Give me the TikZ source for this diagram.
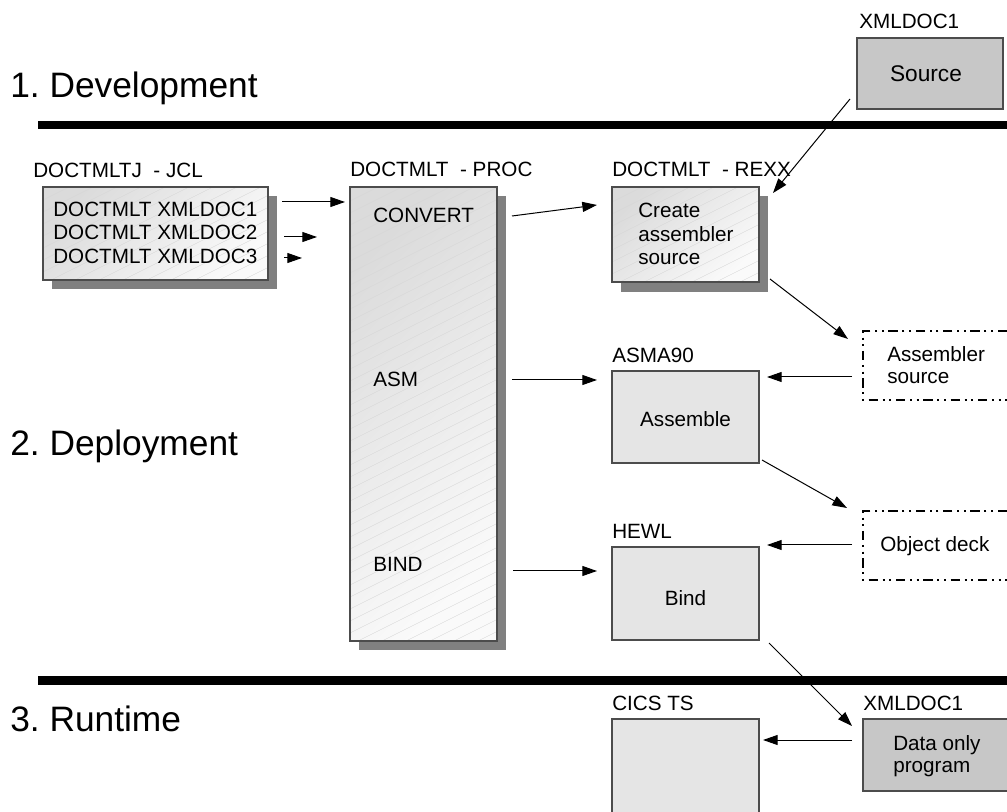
\documentclass[tikz,border=0pt]{standalone}
\usepackage{fontspec}
\setmainfont{Liberation Sans}
\usetikzlibrary{arrows.meta,shadows}
\definecolor{shadowc}{gray}{0.5}
\definecolor{gradA}{gray}{0.86}
\definecolor{gradB}{gray}{0.98}
\definecolor{hatchc}{gray}{0.84}
\definecolor{lightbox}{gray}{0.9}
\definecolor{darkbox}{gray}{0.78}
\definecolor{edgec}{gray}{0.3}
\newcommand\hatchbox[4]{%
  \begin{scope}
    \clip (#1,#2) rectangle (#3,#4);
    \foreach \t in {-1000,-976,...,300} \draw[hatch] (#1+\t,#4) -- ++(1200,-600);
  \end{scope}}
\frenchspacing
\begin{document}
\begin{tikzpicture}[x=0.75pt,y=-0.75pt,
  lbl/.style={anchor=base west, inner sep=0, font=\fontsize{15.5}{18}\selectfont},
  clbl/.style={anchor=base, inner sep=0, font=\fontsize{15.5}{18}\selectfont},
  head/.style={anchor=base west, inner sep=0, font=\fontsize{26.5}{30}\selectfont},
  arr/.style={-{Triangle[length=11pt,width=7.5pt]}, line width=0.75pt},
  shbox/.style={draw=edgec, line width=0.9pt, inner sep=0, outer sep=0,
    top color=gradA, bottom color=gradB, shading angle=45,
    drop shadow={shadow xshift=6.5pt, shadow yshift=-6.5pt, fill=shadowc, opacity=1}},
  flatbox/.style={draw=edgec, line width=0.9pt, inner sep=0, outer sep=0, fill=lightbox},
  darkfill/.style={inner sep=0, outer sep=0, fill=darkbox},
  edge/.style={draw=edgec, line width=0.9pt},
  dashbox/.style={line width=1.9pt, dash pattern=on 7pt off 3.5pt on 1.5pt off 3.5pt on 1.5pt off 3.5pt},
  hatch/.style={draw=hatchc, line width=0.3pt},
  bar/.style={fill=black}
]
\useasboundingbox (0,0) rectangle (1007,812);

% section headings and bars
\node[head] (h1) at (10,98) {1. Development};
\node[head] (h2) at (10,456) {2. Deployment};
\node[head] (h3) at (10,731) {3. Runtime};
\fill[bar] (38,121) rectangle (1007,129);
\fill[bar] (38,676) rectangle (1007,685);

% Source box (top)
\node[lbl] (srclbl) at (859,29) {XMLDOC1};
\node[flatbox, fill=darkbox, minimum width=146*0.75pt, minimum height=71*0.75pt] (src) at (930,73.5) {};
\node[clbl, font=\fontsize{17}{20}\selectfont] (srctxt) at (926,82) {Source};

% JCL box
\node[lbl] (jcllbl) at (33,178) {DOCTMLTJ\ \ - JCL};
\node[shbox, minimum width=225*0.75pt, minimum height=93*0.75pt] (jcl) at (155.5,233.5) {};
\hatchbox{43}{187}{268}{280}
\draw[edge] (jcl.south west) rectangle (jcl.north east);
\node[lbl] (j1) at (53,217) {DOCTMLT XMLDOC1};
\node[lbl] (j2) at (53,240) {DOCTMLT XMLDOC2};
\node[lbl] (j3) at (53,264) {DOCTMLT XMLDOC3};

% PROC box
\node[lbl] (proclbl) at (350,177) {DOCTMLT\ \ - PROC};
\node[shbox, minimum width=147*0.75pt, minimum height=454*0.75pt] (proc) at (423.5,414) {};
\hatchbox{350}{187}{497}{641}
\draw[edge] (proc.south west) rectangle (proc.north east);
\node[lbl] (conv) at (373,223) {CONVERT};
\node[lbl] (asm) at (373,387) {ASM};
\node[lbl] (bind) at (373,572) {BIND};

% REXX box
\node[lbl] (rexxlbl) at (612,177) {DOCTMLT\ \ - REXX};
\node[shbox, minimum width=147*0.75pt, minimum height=95*0.75pt,
  drop shadow={shadow xshift=6.75pt, shadow yshift=-7.5pt, fill=shadowc, opacity=1}] (rexx) at (685.5,234.5) {};
\hatchbox{612}{187}{759}{282}
\draw[edge] (rexx.south west) rectangle (rexx.north east);
\node[lbl] (r1) at (638,218) {Create};
\node[lbl] (r2) at (638,242) {assembler};
\node[lbl] (r3) at (638,265) {source};

% Assembler source (dashed)
\node[inner sep=0, outer sep=0, minimum width=144*0.75pt, minimum height=69*0.75pt] (asrc) at (935,365.5) {};
\draw[dashbox] (asrc.north east) -- (asrc.north west) -- (asrc.south west) -- (asrc.south east);
\node[lbl] (as1) at (887,362) {Assembler};
\node[lbl] (as2) at (887,384) {source};

% Assemble box
\node[lbl] (asmlbl) at (612,363) {ASMA90};
\node[flatbox, minimum width=147*0.75pt, minimum height=92*0.75pt] (assemble) at (685.5,417) {};
\node[clbl] (assembletxt) at (685.5,427) {Assemble};

% Object deck (dashed)
\node[inner sep=0, outer sep=0, minimum width=144*0.75pt, minimum height=69*0.75pt] (odeck) at (935,545.5) {};
\draw[dashbox] (odeck.north east) -- (odeck.north west) -- (odeck.south west) -- (odeck.south east);
\node[lbl] (odtxt) at (880,552) {Object deck};

% Bind box
\node[lbl] (hewllbl) at (612,539) {HEWL};
\node[flatbox, minimum width=147*0.75pt, minimum height=93*0.75pt] (bindbox) at (685.5,593.5) {};
\node[clbl] (bindtxt) at (685.5,605) {Bind};

% CICS TS
\node[lbl] (cicslbl) at (612,710) {CICS TS};
\node[inner sep=0, outer sep=0, fill=lightbox, minimum width=147*0.75pt, minimum height=93*0.75pt] (cics) at (685.5,765.5) {};
\draw[edge] (cics.south west) -- (cics.north west) -- (cics.north east) -- (cics.south east);

% Data only program
\node[lbl] (dolbl) at (863,710) {XMLDOC1};
\node[darkfill, minimum width=144*0.75pt, minimum height=72*0.75pt] (dop) at (935,755) {};
\draw[edge] (dop.north east) -- (dop.north west) -- (dop.south west) -- (dop.south east);
\node[lbl] (do1) at (893,750) {Data only};
\node[lbl] (do2) at (893,772) {program};

% connector end points
\coordinate (a1s) at (282,202); \coordinate (a1e) at (345,202);
\coordinate (a2s) at (284,237); \coordinate (a2e) at (317,237);
\coordinate (a3s) at (284,258); \coordinate (a3e) at (302,258);
\coordinate (a4s) at (512,216); \coordinate (a4e) at (597,205);
\coordinate (a5s) at (850,99);  \coordinate (a5e) at (773,193);
\coordinate (a6s) at (770,279); \coordinate (a6e) at (848,339);
\coordinate (a7s) at (852,377); \coordinate (a7e) at (767,377);
\coordinate (a8s) at (512,380); \coordinate (a8e) at (597,380);
\coordinate (a9s) at (762,460); \coordinate (a9e) at (847,508);
\coordinate (a10s) at (852,545); \coordinate (a10e) at (767,545);
\coordinate (a11s) at (513,571); \coordinate (a11e) at (597,571);
\coordinate (a12s) at (769,643); \coordinate (a12e) at (852,726);
\coordinate (a13s) at (852,740); \coordinate (a13e) at (763,740);

\draw[arr] (a1s) -- (a1e);
\draw[arr] (a2s) -- (a2e);
\draw[arr] (a3s) -- (a3e);
\draw[arr] (a4s) -- (a4e);
\draw[arr] (a5s) -- (a5e);
\draw[arr] (a6s) -- (a6e);
\draw[arr] (a7s) -- (a7e);
\draw[arr] (a8s) -- (a8e);
\draw[arr] (a9s) -- (a9e);
\draw[arr] (a10s) -- (a10e);
\draw[arr] (a11s) -- (a11e);
\draw[arr] (a12s) -- (a12e);
\draw[arr] (a13s) -- (a13e);
\end{tikzpicture}
\end{document}
